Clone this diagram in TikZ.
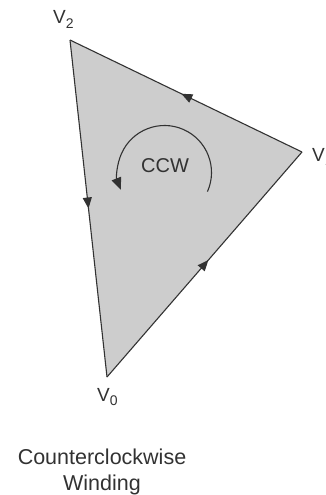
\documentclass[tikz,border=0pt]{standalone}
\usepackage{fontspec}
\setmainfont{Liberation Sans}
\usetikzlibrary{arrows.meta, decorations.markings}
\definecolor{faceGray}{RGB}{205,205,205}
\definecolor{edgeGray}{RGB}{50,50,50}
\definecolor{textGray}{RGB}{50,50,50}
\newcommand{\vtxlabel}[1]{V\raisebox{-0.45ex}{\fontsize{14}{14}\selectfont #1}}

\begin{document}
\begin{tikzpicture}[x=1pt, y=-1pt,
    windedge/.style={draw=edgeGray, line width=1.1pt, postaction={decorate},
        decoration={markings, mark=at position #1 with {\arrow{Triangle[length=11pt, width=9pt]}}}},
    vlabel/.style={anchor=base west, inner sep=0pt, text=textGray, font=\fontsize{19}{19}\selectfont},
    capt/.style={align=center, text=textGray, font=\fontsize{21.5}{26}\selectfont}]
    \useasboundingbox (0,0) rectangle (326,495);

    % Vertices
    \coordinate (V0) at (107,377);
    \coordinate (V1) at (302,152);
    \coordinate (V2) at (70,40);
    \coordinate (ctr) at (164.5,172.5);

    % Face
    \fill[faceGray] (V0) -- (V1) -- (V2) -- cycle;

    % Edges (winding order)
    \draw[windedge=0.52] (V0) -- (V1);
    \draw[windedge=0.52] (V1) -- (V2);
    \draw[windedge=0.5] (V2) -- (V0);

    % Labels
    \node[vlabel] (labV2) at (53,24) {\vtxlabel{2}};
    \node[vlabel] (labV1) at (312,161) {\vtxlabel{1}};
    \node[vlabel] (labV0) at (97,401) {\vtxlabel{0}};

    % Winding arrow
    \node[text=textGray, font=\fontsize{20}{20}\selectfont] (ccw) at (165,166) {CCW};
    \draw[edgeGray, line width=1.1pt, -{Triangle[length=12pt, width=10pt]}]
        ([shift={(24:47)}]ctr) arc[start angle=24, end angle=-201.5, radius=47];

    \node[capt] (caption) at (102,472) {Counterclockwise\\Winding};
\end{tikzpicture}
\end{document}
